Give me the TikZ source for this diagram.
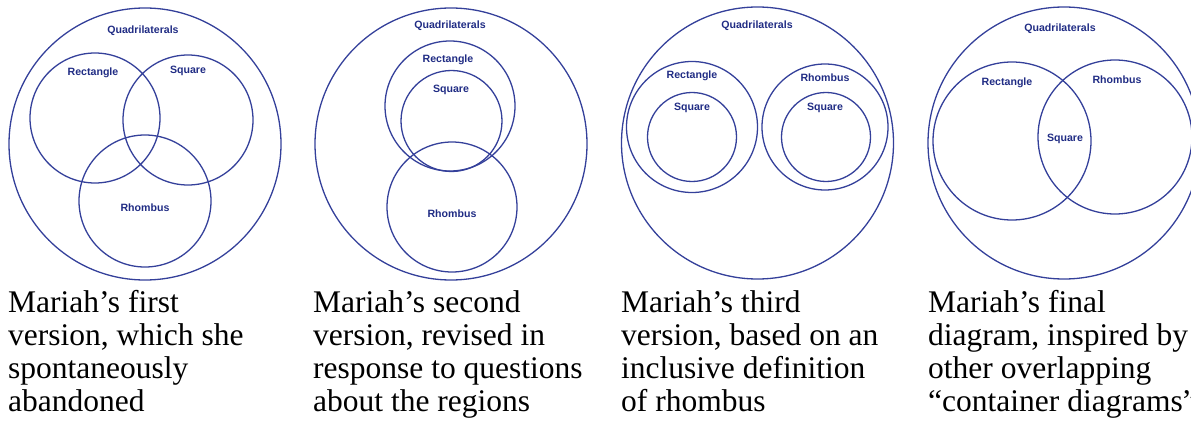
\documentclass[tikz,border=0pt]{standalone}
\usepackage{fontspec}
\setmainfont{Liberation Serif}
\setsansfont{Liberation Sans}
\usepackage{xcolor}
\usepackage{tikz}
\definecolor{ringblue}{HTML}{34409A}
\definecolor{textblue}{HTML}{202C84}

\begin{document}
\begin{tikzpicture}[
  x=1pt, y=-1pt,
  ring/.style={draw=ringblue, circle, inner sep=0pt, line width=1.3pt,
               minimum size=#1},
  setlabel/.style={font=\sffamily\bfseries\fontsize{10.6}{12}\selectfont,
                   color=textblue, inner sep=0pt},
  caption/.style={font=\rmfamily\fontsize{31.5}{33}\selectfont,
                  anchor=base west, align=left, inner sep=0pt}
]
\useasboundingbox (0,0) rectangle (1191,425);

% first version
\node[ring=272pt] (quadA) at (145,144) {};
\node[ring=130pt] (rectA) at (95,118)  {};
\node[ring=130pt] (sqA)   at (188,120) {};
\node[ring=132pt] (rhA)   at (145,201) {};
\node[setlabel] (quadAl) at (143,31)  {Quadrilaterals};
\node[setlabel] (rectAl) at (93,73)   {Rectangle};
\node[setlabel] (sqAl)   at (188,71)  {Square};
\node[setlabel] (rhAl)   at (145,208) {Rhombus};

% second version
\node[ring=272pt] (quadB) at (451,144)   {};
\node[ring=130pt] (rectB) at (450,106)   {};
\node[ring=101pt] (sqB)   at (451.5,121) {};
\node[ring=130pt] (rhB)   at (452,207)   {};
\node[setlabel] (quadBl) at (450,26)  {Quadrilaterals};
\node[setlabel] (rectBl) at (448,60)  {Rectangle};
\node[setlabel] (sqBl)   at (451,90)  {Square};
\node[setlabel] (rhBl)   at (452,214) {Rhombus};

% third version
\node[ring=272pt] (quadC)  at (757.5,143) {};
\node[ring=131pt] (rectC)  at (692,127)   {};
\node[ring=89pt]  (sqC)    at (692,137)   {};
\node[ring=126pt] (rhC)    at (825,127)   {};
\node[ring=89pt]  (sqCC)   at (826,137)   {};
\node[setlabel] (quadCl) at (757,26)  {Quadrilaterals};
\node[setlabel] (rectCl) at (692,76)  {Rectangle};
\node[setlabel] (rhCl)   at (825,78)  {Rhombus};
\node[setlabel] (sqCl)   at (692,108) {Square};
\node[setlabel] (sqCCl)  at (825,108) {Square};

% final diagram
\node[ring=272pt] (quadD) at (1064,143) {};
\node[ring=158pt] (rectD) at (1012,141) {};
\node[ring=154pt] (rhD)   at (1115,137) {};
\node[setlabel] (quadDl) at (1060,29)  {Quadrilaterals};
\node[setlabel] (rectDl) at (1007,83)  {Rectangle};
\node[setlabel] (rhDl)   at (1117,80)  {Rhombus};
\node[setlabel] (sqDl)   at (1065,139) {Square};

% captions (anchored at the last baseline)
\node[caption] (capA) at (8,411)   {Mariah’s first\\version, which she\\spontaneously\\abandoned};
\node[caption] (capB) at (313,411) {Mariah’s second\\version, revised in\\response to questions\\about the regions};
\node[caption] (capC) at (621,411) {Mariah’s third\\version, based on an\\inclusive definition\\of rhombus};
\node[caption] (capD) at (928,411) {Mariah’s final\\diagram, inspired by\\other overlapping\\“container diagrams”};

\end{tikzpicture}
\end{document}
